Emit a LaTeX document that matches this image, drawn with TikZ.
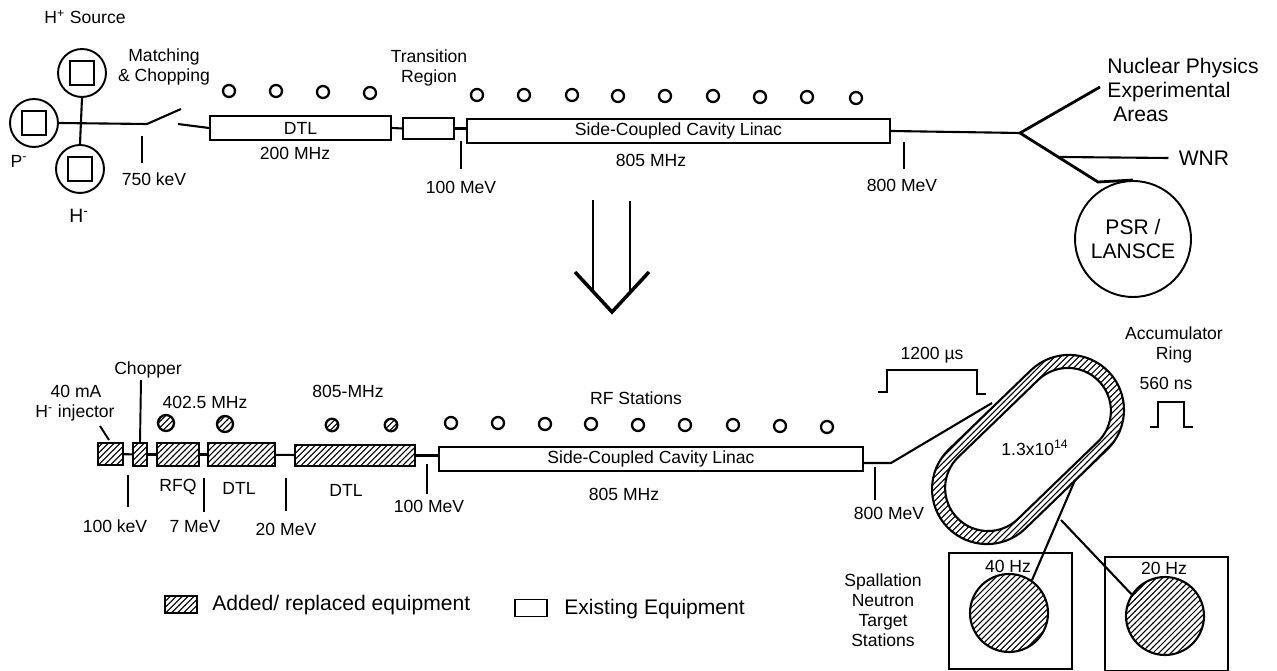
\documentclass[tikz,border=0pt]{standalone}
\usepackage{fontspec}
\setmainfont{Liberation Sans}
\usetikzlibrary{patterns}
\pgfdeclarepatternformonly{widehatch}{\pgfqpoint{-1pt}{-1pt}}{\pgfqpoint{4.4pt}{4.4pt}}{\pgfqpoint{3.4pt}{3.4pt}}{%
  \pgfsetlinewidth{0.6pt}\pgfpathmoveto{\pgfqpoint{-0.1pt}{-0.1pt}}\pgfpathlineto{\pgfqpoint{3.5pt}{3.5pt}}\pgfusepath{stroke}}

\begin{document}
\begin{tikzpicture}[x=0.02cm,y=-0.02cm,
  lab/.style={font=\fontsize{10}{11.4}\selectfont,align=center,inner sep=0pt},
  biglab/.style={font=\fontsize{12}{13.6}\selectfont,align=left,inner sep=0pt},
  box/.style={draw,line width=1.1pt,inner sep=0pt,font=\fontsize{10}{11.4}\selectfont},
  hatchbox/.style={box,pattern=widehatch},
  source/.style={draw,circle,line width=1.1pt,minimum size=0.96cm,inner sep=0pt},
  srccore/.style={draw,line width=1.1pt,minimum size=0.47cm,inner sep=0pt},
  rf/.style={draw,circle,line width=1.3pt,minimum size=0.24cm,inner sep=0pt},
  rfhatch/.style={rf,pattern=widehatch},
  beam/.style={line width=1.2pt},
  tick/.style={line width=1.1pt},
  fork/.style={line width=1.6pt},
  target/.style={draw,circle,line width=1.2pt,minimum size=1.56cm,inner sep=0pt,pattern=widehatch},
  station/.style={draw,line width=1.1pt,minimum width=2.46cm,inner sep=0pt},
]
  \useasboundingbox (0,0) rectangle (1277,671);

  % existing linac
  \node[lab] (hplus) at (85,17) {H\textsuperscript{+} Source};
  \node[source] (ptop) at (82,73) {};
  \node[srccore] at (ptop) {};
  \node[source] (pleft) at (34,123) {};
  \node[srccore] at (pleft) {};
  \node[source] (pbot) at (80,169) {};
  \node[srccore] at (pbot) {};
  \node[lab] (pminus) at (19,161) {P\textsuperscript{-}};
  \node[lab,font=\fontsize{11}{12}\selectfont] (hminus) at (79,216) {H\textsuperscript{-}};
  \node[lab] (match) at (164,67) {Matching\\\& Chopping};
  \node[lab] (trans) at (429,68) {Transition\\Region};

  \node[box,minimum width=3.62cm,minimum height=0.47cm] (dtl) at (300.5,128) {DTL};
  \node[box,minimum width=1.02cm,minimum height=0.42cm] (transbox) at (428.5,128.5) {};
  \node[box,minimum width=8.46cm,minimum height=0.48cm] (scl) at (678.5,131) {Side-Coupled Cavity Linac};

  \coordinate (swa) at (147,124);
  \coordinate (swb) at (181,109);
  \coordinate (swc) at (178,124);
  \coordinate (fork) at (1020,133);
  \coordinate (bend) at (1098,182);
  \coordinate (wnrtap) at (1060,157);
  \coordinate (nuclear) at (1100,87);

  \draw[beam] (ptop.south) -- (pbot.north);
  \draw[beam] (pleft.east) -- (swa) -- (swb);
  \draw[beam] (swc) -- (dtl.west);
  \draw[beam] (dtl.east) -- (transbox.west);
  \draw[beam] (transbox.east) -- (transbox.east -| scl.west);
  \draw[beam] (scl.east) -- (fork);

  \foreach \x/\y in {229/91,276/91,323/92,370/93}
    \node[rf] at (\x,\y) {};
  \foreach \x/\y in {477/95,524/95,572/95,618/96,665/96,713/96,760/97,807/97,856/98}
    \node[rf] at (\x,\y) {};

  \draw[tick] (142,136) -- (142,163);
  \draw[tick] (461,141) -- (461,169);
  \draw[tick] (904,142) -- (904,169);
  \node[lab] (kev) at (154,179) {750 keV};
  \node[lab] (mhzlow) at (295,153) {200 MHz};
  \node[lab] (mevlow) at (461,187) {100 MeV};
  \node[lab] (mhzhigh) at (651,160) {805 MHz};
  \node[lab] (mevhigh) at (902,185) {800 MeV};

  \node[biglab] (nucl) at (1183,90) {Nuclear Physics\\Experimental\\\ Areas};
  \node[biglab] (wnr) at (1204,158) {WNR};
  \node[draw,circle,line width=1.1pt,minimum size=2.32cm,inner sep=0pt,align=center,font=\fontsize{12}{13.6}\selectfont] (psr) at (1133,239) {PSR /\\LANSCE};

  \draw[fork] (fork) -- (nuclear);
  \draw[fork] (fork) -- (bend) -- (psr.north);
  \draw[beam] (wnrtap) -- ([xshift=-0.2cm]wnr.west);

  % big arrow
  \coordinate (tipl) at (575,272);
  \coordinate (tip) at (612,312);
  \coordinate (tipr) at (649,272);
  \draw[fork] (593,200) -- (593,291);
  \draw[fork] (630,201) -- (630,291);
  \draw[line width=2pt] (tipl) -- (tip) -- (tipr);

  % upgraded linac
  \node[hatchbox,minimum width=0.5cm,minimum height=0.44cm] (inj) at (110.5,454) {};
  \node[hatchbox,minimum width=0.28cm,minimum height=0.46cm] (chop) at (140,454.5) {};
  \node[hatchbox,minimum width=0.84cm,minimum height=0.46cm] (rfq) at (178,454.5) {};
  \node[hatchbox,minimum width=1.34cm,minimum height=0.46cm] (dtla) at (241.5,454.5) {};
  \node[hatchbox,minimum width=2.4cm,minimum height=0.42cm] (dtlb) at (355,455.5) {};
  \node[box,minimum width=8.48cm,minimum height=0.48cm] (sclb) at (651,459) {Side-Coupled Cavity Linac};

  \coordinate (chopup) at (141,380);
  \coordinate (injup) at (100,426);
  \coordinate (kink) at (891,463);
  \coordinate (inject) at (992,403);

  \draw[beam] (inj) -- (chop);
  \draw[beam] (chop) -- (rfq);
  \draw[beam] (rfq) -- (dtla);
  \draw[beam] (dtla) -- (dtlb);
  \draw[beam] (dtlb.east) -- (dtlb.east -| sclb.west);
  \draw[tick] (chopup) -- (chop.north);
  \draw[tick] (injup) -- (109,440);

  \node[lab] (ma) at (76,391) {40 mA};
  \node[lab] (hinj) at (75,413) {H\textsuperscript{-} injector};
  \node[lab] (chopper) at (148,370) {Chopper};
  \node[lab] (rfqmhz) at (205,402) {402.5 MHz};
  \node[lab] (dtlmhz) at (348,391) {805-MHz};
  \node[lab] (rfst) at (636,398) {RF Stations};

  \node[rfhatch,minimum size=0.32cm] at (166,423) {};
  \node[rfhatch,minimum size=0.32cm] at (225,424) {};
  \node[rfhatch,minimum size=0.25cm] at (332,425) {};
  \node[rfhatch,minimum size=0.25cm] at (391,425) {};
  \foreach \x/\y in {451/423,498/423,545/424,591/424,638/425,685/425,733/425,780/426,827/427}
    \node[rf] at (\x,\y) {};

  \draw[tick] (128,475) -- (128,507);
  \draw[tick] (204,478) -- (204,512);
  \draw[tick] (286,478) -- (286,511);
  \draw[tick] (427,464) -- (427,494);
  \draw[tick] (875,467) -- (875,500);

  \node[lab] (rfqlab) at (178,487) {RFQ};
  \node[lab] (dtlalab) at (239,488) {DTL};
  \node[lab] (dtlblab) at (346,490) {DTL};
  \node[lab] (kevb) at (115,526) {100 keV};
  \node[lab] (meva) at (195,527) {7 MeV};
  \node[lab] (mevb) at (286,529) {20 MeV};
  \node[lab] (mevc) at (429,506) {100 MeV};
  \node[lab] (mhzb) at (624,494) {805 MHz};
  \node[lab] (mevd) at (889,513) {800 MeV};

  % ring and targets
  \node[draw,line width=1.2pt,pattern=widehatch,rotate=44,minimum width=4.48cm,minimum height=2.2cm,rounded corners=1.1cm,inner sep=0pt] (ringout) at (1028,449.5) {};
  \node[draw,line width=1.2pt,fill=white,rotate=44,minimum width=3.94cm,minimum height=1.72cm,rounded corners=0.86cm,inner sep=0pt] (ringin) at (1028,449.5) {};
  \node[lab] (charge) at (1035,448) {1.3x10\textsuperscript{14}};

  \draw[beam] (sclb.east |- kink) -- (kink) -- (inject);

  \draw[beam] (878,392) -- (887,392) -- (887,370) -- (977,370) -- (977,394) -- (986,394);
  \draw[beam] (1150,427) -- (1158,427) -- (1158,402) -- (1184,402) -- (1184,427) -- (1193,427);
  \node[lab] (pulse) at (932,355) {1200 µs};
  \node[lab] (accum) at (1174,345) {Accumulator\\Ring};
  \node[lab] (short) at (1166,383) {560 ns};

  \node[station,minimum height=2.32cm] (stata) at (1010.5,611) {};
  \node[station,minimum height=2.28cm] (statb) at (1166.5,614) {};
  \node[target] (tgta) at (1009,613) {};
  \node[target] (tgtb) at (1165,616) {};
  \node[lab] (hza) at (1008,566) {40 Hz};
  \node[lab] (hzb) at (1164,568) {20 Hz};
  \node[lab] (spall) at (883,610) {Spallation\\Neutron\\Target\\Stations};

  \coordinate (tapa) at (1075,480);
  \coordinate (tapb) at (1061,520);
  \draw[beam] (tapa) -- (tgta.55);
  \draw[beam] (tapb) -- (tgtb.147);

  % legend
  \node[hatchbox,minimum width=0.64cm,minimum height=0.34cm] (keya) at (181,604.5) {};
  \node[biglab,anchor=west] (keyatxt) at (212,605) {Added/ replaced equipment};
  \node[box,minimum width=0.64cm,minimum height=0.34cm] (keyb) at (531,608) {};
  \node[biglab,anchor=west] (keybtxt) at (564,609) {Existing Equipment};
\end{tikzpicture}
\end{document}
